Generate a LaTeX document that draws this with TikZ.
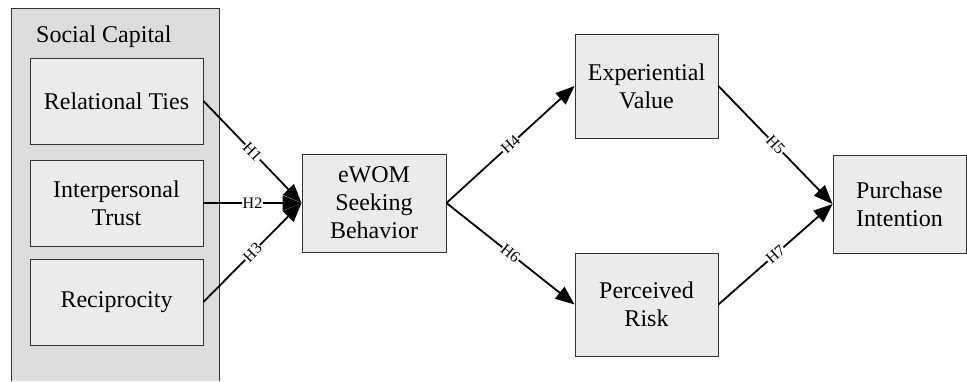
\documentclass[tikz,border=0pt]{standalone}
\usepackage{fontspec}
\setmainfont{Liberation Serif}
\usetikzlibrary{arrows.meta}
\definecolor{outerfill}{HTML}{DCDCDC}
\definecolor{innerfill}{HTML}{EBEBEB}
\definecolor{edgecol}{HTML}{333333}
\tikzset{
  box/.style={draw=edgecol, line width=0.9pt, fill=innerfill, align=center, inner sep=0pt,
    font=\fontsize{24}{28}\selectfont},
  conn/.style={line width=1.8pt, -{Triangle[length=19pt,width=15pt]}},
  hlab/.style={midway, sloped, fill=white, inner sep=0.6pt, font=\fontsize{16}{16}\selectfont}
}
\begin{document}
\begin{tikzpicture}[x=1pt,y=-1pt]
\useasboundingbox (0,0) rectangle (967,381);
% outer social capital group
\fill[outerfill] (11,8) rectangle (219,381);
\draw[edgecol, line width=0.9pt] (11,381) -- (11,8) -- (219,8) -- (219,381);
\node[anchor=base west, inner sep=0pt, font=\fontsize{24}{28}\selectfont] (sc) at (36,42) {Social Capital};
% boxes
\node[box, minimum width=173pt, minimum height=86pt] (rt) at (116.5,101) {Relational Ties};
\node[box, minimum width=173pt, minimum height=86pt] (it) at (116.5,203) {Interpersonal\\Trust};
\node[box, minimum width=173pt, minimum height=86pt] (rc) at (116.5,302) {Reciprocity};
\node[box, minimum width=144pt, minimum height=98pt] (ew) at (374,203) {eWOM\\Seeking\\Behavior};
\node[box, minimum width=143pt, minimum height=104pt] (ex) at (646.5,86) {Experiential\\Value};
\node[box, minimum width=143pt, minimum height=103pt] (pr) at (646.5,304.5) {Perceived\\Risk};
\node[box, minimum width=133pt, minimum height=98pt] (pi) at (899.5,204) {Purchase\\Intention};
% connectors
\draw[conn] (rt.east) -- node[hlab]{H1} (ew.west);
\draw[conn] (it.east) -- node[hlab]{H2} (ew.west);
\draw[conn] (rc.east) -- node[hlab]{H3} (ew.west);
\draw[conn] (ew.east) -- node[hlab]{H4} (ex.west);
\draw[conn] (ew.east) -- node[hlab]{H6} (pr.west);
\draw[conn] (ex.east) -- node[hlab]{H5} (pi.west);
\draw[conn] (pr.east) -- node[hlab]{H7} (pi.west);
\end{tikzpicture}
\end{document}
